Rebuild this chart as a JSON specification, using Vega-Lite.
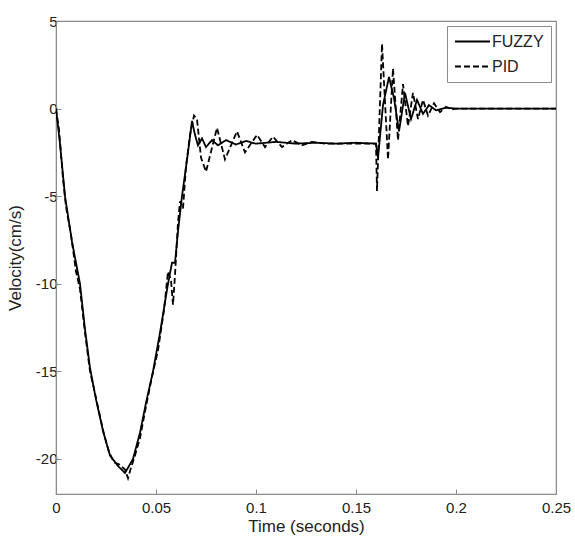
{
  "$schema": "https://vega.github.io/schema/vega-lite/v6.json",
  "width": 500,
  "height": 473,
  "autosize": {"type": "none"},
  "padding": {"left": 56, "top": 21, "right": 19, "bottom": 45},
  "background": "white",
  "config": {
    "view": {"stroke": "#8a8a8a", "strokeWidth": 1.2},
    "font": "Liberation Sans",
    "axis": {
      "grid": false,
      "domainColor": "#8a8a8a",
      "tickColor": "#8a8a8a",
      "tickSize": -5,
      "labelFont": "Liberation Sans",
      "labelFontSize": 15,
      "labelColor": "#222",
      "titleFont": "Liberation Sans",
      "titleFontSize": 17,
      "titleFontWeight": "normal",
      "titleColor": "#222"
    }
  },
  "data": {
    "values": [
      {"t": 0, "v": 0, "s": "FUZZY"},
      {"t": 0.002, "v": -2.0, "s": "FUZZY"},
      {"t": 0.0045, "v": -5, "s": "FUZZY"},
      {"t": 0.008, "v": -7.6, "s": "FUZZY"},
      {"t": 0.012, "v": -10, "s": "FUZZY"},
      {"t": 0.0145, "v": -12.6, "s": "FUZZY"},
      {"t": 0.017, "v": -14.8, "s": "FUZZY"},
      {"t": 0.02, "v": -16.6, "s": "FUZZY"},
      {"t": 0.0235, "v": -18.4, "s": "FUZZY"},
      {"t": 0.027, "v": -19.8, "s": "FUZZY"},
      {"t": 0.031, "v": -20.4, "s": "FUZZY"},
      {"t": 0.0345, "v": -20.8, "s": "FUZZY"},
      {"t": 0.0385, "v": -20, "s": "FUZZY"},
      {"t": 0.042, "v": -18.5, "s": "FUZZY"},
      {"t": 0.045, "v": -16.8, "s": "FUZZY"},
      {"t": 0.0485, "v": -15, "s": "FUZZY"},
      {"t": 0.052, "v": -12.8, "s": "FUZZY"},
      {"t": 0.056, "v": -10, "s": "FUZZY"},
      {"t": 0.058, "v": -8.8, "s": "FUZZY"},
      {"t": 0.0595, "v": -8.8, "s": "FUZZY"},
      {"t": 0.061, "v": -7, "s": "FUZZY"},
      {"t": 0.063, "v": -5, "s": "FUZZY"},
      {"t": 0.066, "v": -2.5, "s": "FUZZY"},
      {"t": 0.068, "v": -0.7, "s": "FUZZY"},
      {"t": 0.0695, "v": -1.5, "s": "FUZZY"},
      {"t": 0.071, "v": -2.1, "s": "FUZZY"},
      {"t": 0.073, "v": -1.7, "s": "FUZZY"},
      {"t": 0.075, "v": -2.2, "s": "FUZZY"},
      {"t": 0.078, "v": -1.8, "s": "FUZZY"},
      {"t": 0.081, "v": -2.1, "s": "FUZZY"},
      {"t": 0.085, "v": -1.8, "s": "FUZZY"},
      {"t": 0.09, "v": -2.05, "s": "FUZZY"},
      {"t": 0.095, "v": -1.85, "s": "FUZZY"},
      {"t": 0.1, "v": -2.0, "s": "FUZZY"},
      {"t": 0.11, "v": -1.9, "s": "FUZZY"},
      {"t": 0.12, "v": -2.0, "s": "FUZZY"},
      {"t": 0.13, "v": -1.95, "s": "FUZZY"},
      {"t": 0.14, "v": -2.0, "s": "FUZZY"},
      {"t": 0.15, "v": -1.95, "s": "FUZZY"},
      {"t": 0.16, "v": -2.0, "s": "FUZZY"},
      {"t": 0.161, "v": -2.8, "s": "FUZZY"},
      {"t": 0.1635, "v": 0.2, "s": "FUZZY"},
      {"t": 0.1665, "v": 1.8, "s": "FUZZY"},
      {"t": 0.169, "v": 0.6, "s": "FUZZY"},
      {"t": 0.1715, "v": -1.3, "s": "FUZZY"},
      {"t": 0.1745, "v": 0.9, "s": "FUZZY"},
      {"t": 0.1775, "v": -0.6, "s": "FUZZY"},
      {"t": 0.1805, "v": 0.5, "s": "FUZZY"},
      {"t": 0.1835, "v": -0.3, "s": "FUZZY"},
      {"t": 0.1865, "v": 0.2, "s": "FUZZY"},
      {"t": 0.19, "v": -0.1, "s": "FUZZY"},
      {"t": 0.195, "v": 0.05, "s": "FUZZY"},
      {"t": 0.2, "v": 0, "s": "FUZZY"},
      {"t": 0.25, "v": 0, "s": "FUZZY"},

      {"t": 0, "v": 0, "s": "PID"},
      {"t": 0.0015, "v": -1.2, "s": "PID"},
      {"t": 0.0035, "v": -4, "s": "PID"},
      {"t": 0.005, "v": -5.6, "s": "PID"},
      {"t": 0.0075, "v": -7.2, "s": "PID"},
      {"t": 0.01, "v": -9.3, "s": "PID"},
      {"t": 0.012, "v": -10.3, "s": "PID"},
      {"t": 0.0145, "v": -12.8, "s": "PID"},
      {"t": 0.017, "v": -15, "s": "PID"},
      {"t": 0.019, "v": -16, "s": "PID"},
      {"t": 0.0215, "v": -17.3, "s": "PID"},
      {"t": 0.024, "v": -18.6, "s": "PID"},
      {"t": 0.0265, "v": -19.6, "s": "PID"},
      {"t": 0.029, "v": -20.2, "s": "PID"},
      {"t": 0.0315, "v": -20.3, "s": "PID"},
      {"t": 0.0345, "v": -20.6, "s": "PID"},
      {"t": 0.036, "v": -21.1, "s": "PID"},
      {"t": 0.0375, "v": -20.5, "s": "PID"},
      {"t": 0.0395, "v": -19.8, "s": "PID"},
      {"t": 0.042, "v": -18.8, "s": "PID"},
      {"t": 0.045, "v": -17, "s": "PID"},
      {"t": 0.048, "v": -15.3, "s": "PID"},
      {"t": 0.051, "v": -13.8, "s": "PID"},
      {"t": 0.054, "v": -11.5, "s": "PID"},
      {"t": 0.056, "v": -9.3, "s": "PID"},
      {"t": 0.0575, "v": -9.8, "s": "PID"},
      {"t": 0.0585, "v": -11.2, "s": "PID"},
      {"t": 0.0595, "v": -9.5, "s": "PID"},
      {"t": 0.061, "v": -6.5, "s": "PID"},
      {"t": 0.062, "v": -5.3, "s": "PID"},
      {"t": 0.0635, "v": -5.7, "s": "PID"},
      {"t": 0.065, "v": -3.3, "s": "PID"},
      {"t": 0.067, "v": -1.5, "s": "PID"},
      {"t": 0.069, "v": -0.4, "s": "PID"},
      {"t": 0.0705, "v": -0.6, "s": "PID"},
      {"t": 0.0725, "v": -2.8, "s": "PID"},
      {"t": 0.075, "v": -3.6, "s": "PID"},
      {"t": 0.0805, "v": -1.1, "s": "PID"},
      {"t": 0.0845, "v": -2.9, "s": "PID"},
      {"t": 0.0905, "v": -1.3, "s": "PID"},
      {"t": 0.0945, "v": -2.5, "s": "PID"},
      {"t": 0.1005, "v": -1.5, "s": "PID"},
      {"t": 0.1045, "v": -2.2, "s": "PID"},
      {"t": 0.1085, "v": -1.6, "s": "PID"},
      {"t": 0.113, "v": -2.2, "s": "PID"},
      {"t": 0.118, "v": -1.8, "s": "PID"},
      {"t": 0.123, "v": -2.1, "s": "PID"},
      {"t": 0.128, "v": -1.9, "s": "PID"},
      {"t": 0.135, "v": -2.0, "s": "PID"},
      {"t": 0.16, "v": -2.0, "s": "PID"},
      {"t": 0.1605, "v": -4.7, "s": "PID"},
      {"t": 0.163, "v": 3.7, "s": "PID"},
      {"t": 0.166, "v": -2.9, "s": "PID"},
      {"t": 0.1685, "v": 2.3, "s": "PID"},
      {"t": 0.171, "v": -1.8, "s": "PID"},
      {"t": 0.1735, "v": 1.4, "s": "PID"},
      {"t": 0.176, "v": -1.0, "s": "PID"},
      {"t": 0.1785, "v": 0.9, "s": "PID"},
      {"t": 0.181, "v": -0.6, "s": "PID"},
      {"t": 0.1835, "v": 0.5, "s": "PID"},
      {"t": 0.186, "v": -0.4, "s": "PID"},
      {"t": 0.189, "v": 0.3, "s": "PID"},
      {"t": 0.192, "v": -0.2, "s": "PID"},
      {"t": 0.195, "v": 0.1, "s": "PID"},
      {"t": 0.198, "v": -0.05, "s": "PID"},
      {"t": 0.2, "v": 0, "s": "PID"},
      {"t": 0.25, "v": 0, "s": "PID"}
    ]
  },
  "mark": {"type": "line", "color": "black", "strokeWidth": 1.8, "clip": true},
  "encoding": {
    "x": {
      "field": "t",
      "type": "quantitative",
      "scale": {"domain": [0, 0.25], "nice": false, "zero": false},
      "axis": {"values": [0, 0.05, 0.1, 0.15, 0.2, 0.25], "labelExpr": "toString(datum.value)", "title": "Time (seconds)", "labelPadding": 11, "titlePadding": 3, "labelFlush": false}
    },
    "y": {
      "field": "v",
      "type": "quantitative",
      "scale": {"domain": [-22, 5], "nice": false, "zero": false},
      "axis": {"values": [5, 0, -5, -10, -15, -20], "labelExpr": "toString(datum.value)", "title": "Velocity(cm/s)", "labelPadding": 4, "titlePadding": 11, "labelFlush": false}
    },
    "strokeDash": {
      "field": "s",
      "type": "nominal",
      "scale": {"domain": ["FUZZY", "PID"], "range": [[1, 0], [6, 3]]},
      "legend": {
        "title": null,
        "orient": "top-right",
        "offset": 5,
        "padding": 7,
        "strokeColor": "#8a8a8a",
        "fillColor": "white",
        "symbolType": "stroke",
        "symbolSize": 1225,
        "symbolStrokeWidth": 1.8,
        "symbolStrokeColor": "black",
        "clipHeight": 17,
        "labelFontSize": 16,
        "labelFont": "Liberation Sans",
        "labelColor": "#222",
        "rowPadding": 8,
        "labelOffset": 1
      }
    },
    "order": {"field": "t", "type": "quantitative"}
  }
}
